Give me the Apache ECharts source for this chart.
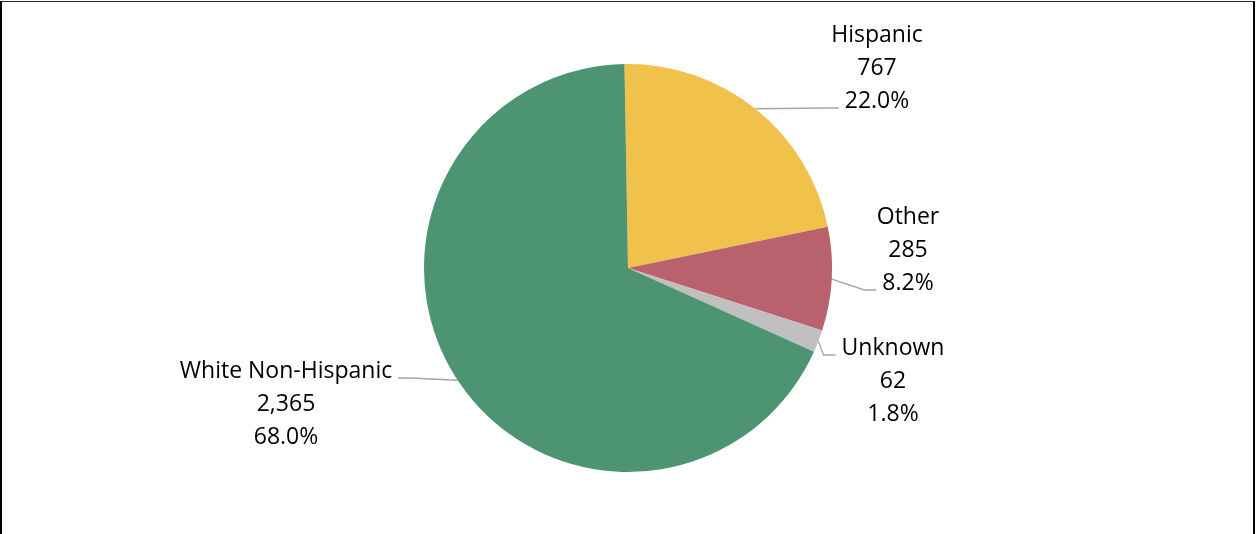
<!DOCTYPE html>
<html>
<head>
<meta charset="utf-8">
<script src="https://cdn.jsdelivr.net/npm/echarts@6/dist/echarts.min.js"></script>
<style>
  html, body { margin: 0; padding: 0; background: #fff; overflow: hidden; }
  #frame {
    position: absolute; left: 0; top: 1px; width: 1251px; height: 560px;
    border-left: 2px solid #000; border-top: 1px solid #262626; border-right: 2px solid #000;
  }
  #chart { position: absolute; left: 0; top: 0; width: 1256px; height: 534px; }
</style>
</head>
<body>
<div id="frame"></div>
<div id="chart"></div>
<script>
// Ethnicity breakdown
const categories = ['Hispanic', 'Other', 'Unknown', 'White Non-Hispanic'];
const counts = [767, 285, 62, 2365];
const sliceColors = ['#F0C24C', '#B9626D', '#BFBFBF', '#4C9472'];

// Where each label block is centred (layout only)
const labelSpots = [[877, 68], [908, 250], [893, 381], [286, 404]];

const FONT_SIZE = 23;
const FONT_FAMILY = 'Open Sans';
const LINE_H = 33;
const LINE_GAP = 6;      // gap between leader end and text
const LINE_SEG = 12;     // horizontal run of the leader

const total = counts.reduce((a, b) => a + b, 0);

const measureCtx = document.createElement('canvas').getContext('2d');
measureCtx.font = FONT_SIZE + 'px "' + FONT_FAMILY + '"';
const textWidth = s => measureCtx.measureText(s).width;

const chart = echarts.init(document.getElementById('chart'), null, { renderer: 'canvas' });

chart.setOption({
  animation: false,
  backgroundColor: 'transparent',
  series: [{
    type: 'pie',
    center: [628, 268],
    radius: 204,
    startAngle: 91,
    clockwise: true,
    avoidLabelOverlap: false,
    data: categories.map((name, i) => ({
      name: name,
      value: counts[i],
      itemStyle: { color: sliceColors[i] }
    })),
    itemStyle: { borderWidth: 0 },
    emphasis: { disabled: true },
    label: {
      show: true,
      position: 'outside',
      color: '#000',
      fontFamily: FONT_FAMILY,
      fontSize: FONT_SIZE,
      lineHeight: LINE_H,
      align: 'center',
      formatter: p => p.name + '\n' +
        echarts.format.addCommas(p.value) + '\n' +
        (p.value / total * 100).toFixed(1) + '%'
    },
    labelLine: {
      show: true,
      length: 10,
      length2: 10,
      smooth: false,
      lineStyle: { color: '#A6A6A6', width: 1.4 }
    },
    labelLayout: function (params) {
      const spot = labelSpots[params.dataIndex];
      const cx = spot[0], cy = spot[1];
      const lines = String(params.text).split('\n');
      const start = params.labelLinePoints && params.labelLinePoints[0];
      const layout = { x: cx, y: cy, align: 'center', verticalAlign: 'middle' };
      if (!start) return layout;
      const top = cy - LINE_H * lines.length / 2;
      // attach the leader to the text row closest to the slice
      let row = Math.round((start[1] - top - LINE_H / 2) / LINE_H);
      row = Math.max(0, Math.min(lines.length - 1, row));
      const rowY = top + LINE_H * row + LINE_H / 2 + 7;
      const w = textWidth(lines[row]);
      const toRight = cx > start[0];
      const endX = toRight ? cx - w / 2 - LINE_GAP : cx + w / 2 + LINE_GAP;
      const elbowX = toRight ? endX - LINE_SEG : endX + LINE_SEG;
      layout.labelLinePoints = [[start[0], start[1]], [elbowX, rowY], [endX, rowY]];
      return layout;
    }
  }]
});
</script>
</body>
</html>
